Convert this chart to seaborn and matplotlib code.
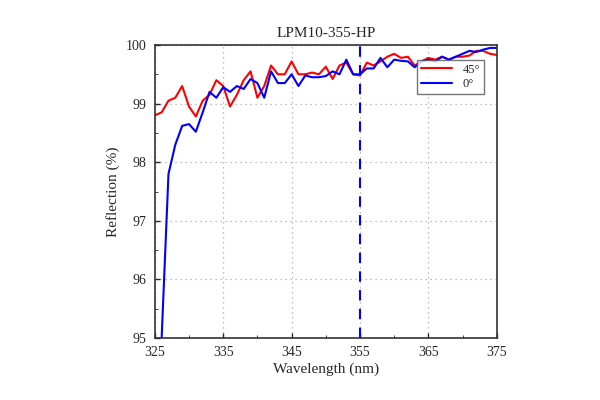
import numpy as np
import pandas as pd
import matplotlib
matplotlib.use("Agg")
import matplotlib.pyplot as plt
import seaborn as sns

wavelength = list(range(325, 376))
refl_45 = [98.8, 98.85, 99.05, 99.1, 99.3, 98.95, 98.78, 99.05, 99.15, 99.4,
           99.3, 98.95, 99.15, 99.4, 99.55, 99.1, 99.3, 99.65, 99.5, 99.5,
           99.72, 99.5, 99.5, 99.53, 99.5, 99.63, 99.42, 99.65, 99.7, 99.5,
           99.48, 99.7, 99.65, 99.72, 99.8, 99.85, 99.78, 99.8, 99.65, 99.72,
           99.78, 99.75, 99.8, 99.75, 99.8, 99.8, 99.82, 99.9, 99.9, 99.85, 99.83]
refl_0 = [94.0, 95.0, 97.8, 98.3, 98.62, 98.65, 98.52, 98.85, 99.2, 99.1,
          99.28, 99.2, 99.3, 99.25, 99.42, 99.35, 99.1, 99.55, 99.35, 99.35,
          99.5, 99.3, 99.48, 99.45, 99.45, 99.47, 99.55, 99.5, 99.75, 99.5,
          99.5, 99.6, 99.6, 99.78, 99.62, 99.75, 99.73, 99.72, 99.62, 99.72,
          99.75, 99.72, 99.8, 99.75, 99.8, 99.85, 99.9, 99.88, 99.92, 99.95, 99.95]

df = pd.DataFrame({
    "Wavelength": wavelength * 2,
    "Reflection": refl_45 + refl_0,
    "Angle": ["45°"] * len(wavelength) + ["0°"] * len(wavelength),
})

sns.set_style("ticks")
plt.rcParams["font.family"] = ["Liberation Serif", "DejaVu Serif"]

fig = plt.figure(figsize=(6, 4), dpi=100)
ax = fig.add_axes([0.258, 0.155, 0.57, 0.7325])

sns.lineplot(data=df, x="Wavelength", y="Reflection", hue="Angle",
             palette={"45°": "#ff0000", "0°": "#0000ff"}, linewidth=1.5, ax=ax)

ax.axvline(355, color="#0000ff", linestyle=(0, (5, 4)), linewidth=1.5)
ax.set_xlim(325, 375)
ax.set_ylim(95, 100)
ax.set_xticks(range(325, 376, 10))
ax.set_yticks(range(95, 101))
ax.set_xticks(range(330, 376, 10), minor=True)
ax.set_yticks(np.arange(95.5, 100, 1), minor=True)
ax.tick_params(direction="in", labelsize=10, width=1, pad=6)
ax.tick_params(which="minor", direction="in", length=2)
ax.grid(True, which="major", linestyle=(0, (1, 3)), color="#aaaaaa", linewidth=0.9)
for s in ax.spines.values():
    s.set_linewidth(1.2)
    s.set_color("#333333")

ax.set_xlabel("Wavelength (nm)", fontsize=11, labelpad=2)
ax.set_ylabel("Reflection (%)", fontsize=11)
ax.set_title("LPM10-355-HP", fontsize=11)
leg = ax.legend(title=None, loc="upper right", bbox_to_anchor=(0.98, 0.97),
                fontsize=9, frameon=True, fancybox=False, handlelength=2.5,
                borderpad=0.3, labelspacing=0.2)
leg.get_frame().set_edgecolor("#555555")

fig.savefig("out.png", dpi=100)
